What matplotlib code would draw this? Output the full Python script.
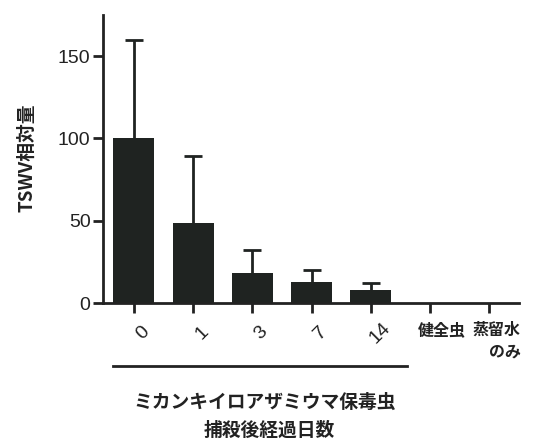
import matplotlib
matplotlib.use("Agg")
import matplotlib.pyplot as plt
import numpy as np

# data
days      = ["0", "1", "3", "7", "14"]
controls  = ["健全虫", "蒸留水\nのみ"]
values    = [100, 48.4, 18.5, 12.8, 7.9, 0, 0]
err_upper = [60, 41, 13.8, 7.3, 4.5, 0, 0]
y_ticks   = [0, 50, 100, 150]

JP = ["Noto Sans CJK JP", "DejaVu Sans"]
NUM = ["Liberation Sans", "DejaVu Sans"]
INK = "#222222"
plt.rcParams["font.family"] = JP

fig = plt.figure(figsize=(5.54, 4.40), dpi=100)
ax = fig.add_axes([0.186, 0.311, 0.751, 0.655])

x = np.arange(len(values))
n_days = len(days)
ax.bar(x[:n_days], values[:n_days], width=0.69, color="#1f2321", zorder=2)
_, caps, _ = ax.errorbar(x[:n_days], values[:n_days],
                         yerr=[np.zeros(n_days), err_upper[:n_days]],
                         fmt="none", ecolor="#1f2321", elinewidth=2,
                         capsize=6.5, capthick=2, zorder=1)
caps[0].set_visible(False)  # one-sided error bars, hide lower caps

ax.set_xlim(-0.52, 6.5)
ax.set_ylim(0, 175)
ax.set_yticks(y_ticks)
ax.set_yticklabels([str(t) for t in y_ticks], family=NUM, fontsize=14,
                   color=INK)
ax.set_xticks(x)
ax.set_xticklabels([])
for s in ["top", "right"]:
    ax.spines[s].set_visible(False)
for s in ["left", "bottom"]:
    ax.spines[s].set_linewidth(2)
    ax.spines[s].set_color(INK)
ax.tick_params(axis="both", width=2, length=7, color=INK, pad=2)

# rotated day labels
trans = ax.get_xaxis_transform()
for i, d in enumerate(days):
    ax.text(i + 0.15, -0.104, d, transform=trans, rotation=45, ha="center",
            va="center", family=NUM, fontsize=14, color=INK)

# control labels
ax.text(5.2, -0.094, controls[0], transform=trans, ha="center", va="center",
        fontsize=11.5, fontweight="bold", color=INK)
ax.text(6.53, -0.066, controls[1], transform=trans, ha="right", va="top",
        fontsize=11.5, fontweight="bold", color=INK,
        multialignment="right", linespacing=1.4)

# group line and group label
ax.plot([-0.35, 4.61], [-0.219, -0.219], transform=trans, color=INK,
        lw=2, clip_on=False)
ax.text(2.2, -0.344, "ミカンキイロアザミウマ保毒虫", transform=trans,
        ha="center", va="center", fontsize=13.5, fontweight="bold",
        color=INK)
ax.text(2.28, -0.441, "捕殺後経過日数", transform=trans,
        ha="center", va="center", fontsize=13.5, fontweight="bold",
        color=INK)

ax.set_ylabel("TSWV相対量", fontsize=13.5, fontweight="bold", color=INK)
ax.yaxis.set_label_coords(-0.16, 0.503)

fig.savefig("out.png", dpi=100)
